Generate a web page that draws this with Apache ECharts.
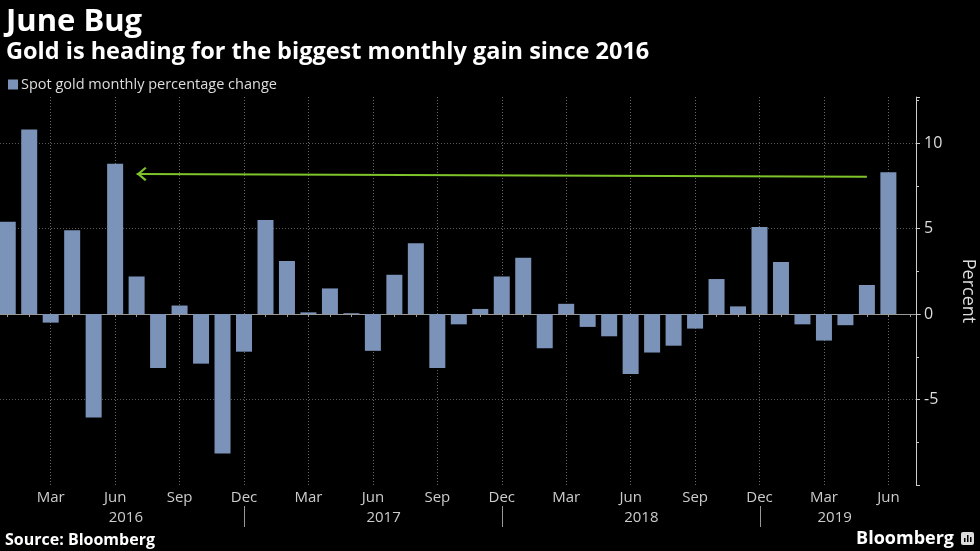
<!DOCTYPE html>
<html><head><meta charset="utf-8">
<script src="https://cdn.jsdelivr.net/npm/echarts@6/dist/echarts.min.js"></script>
<style>html,body{margin:0;padding:0;background:#000;}#c{width:980px;height:551px;}</style>
</head><body><div id="c"></div>
<script>
// ---- data ----
const categories = [
  'Jan 2016','Feb 2016','Mar 2016','Apr 2016','May 2016','Jun 2016','Jul 2016','Aug 2016','Sep 2016','Oct 2016','Nov 2016','Dec 2016',
  'Jan 2017','Feb 2017','Mar 2017','Apr 2017','May 2017','Jun 2017','Jul 2017','Aug 2017','Sep 2017','Oct 2017','Nov 2017','Dec 2017',
  'Jan 2018','Feb 2018','Mar 2018','Apr 2018','May 2018','Jun 2018','Jul 2018','Aug 2018','Sep 2018','Oct 2018','Nov 2018','Dec 2018',
  'Jan 2019','Feb 2019','Mar 2019','Apr 2019','May 2019','Jun 2019','Jul 2019'
];
const goldChange = [
  5.4, 10.8, -0.5, 4.9, -6.05, 8.8, 2.2, -3.15, 0.5, -2.9, -8.15, -2.2,
  5.5, 3.1, 0.1, 1.5, 0.05, -2.15, 2.3, 4.15, -3.15, -0.6, 0.3, 2.2,
  3.3, -2.0, 0.6, -0.75, -1.3, -3.5, -2.25, -1.85, -0.85, 2.05, 0.45, 5.1,
  3.05, -0.6, -1.55, -0.65, 1.7, 8.3, null
];
const labelMonths = ['Mar','Jun','Sep','Dec'];
const years = ['2016','2017','2018','2019'];
const yTicks = {min: -10, max: 12.7, interval: 5};
const arrowFrom = ['May 2019', 8.04];
const arrowTo = ['Jul 2016', 8.2];
const seriesName = 'Spot gold monthly percentage change';
const titleText = 'June Bug';
const subtitleText = 'Gold is heading for the biggest monthly gain since 2016';

// ---- chart ----
const FONT = 'Open Sans';
const chart = echarts.init(document.getElementById('c'), null, {renderer: 'canvas'});
const isLabelMonth = (idx, val) => labelMonths.indexOf(String(val).split(' ')[0]) >= 0;
// open chevron, tip at the centre of its box so it sits on the line end
const chevron = 'path://M10,-12 L10.01,-12 M0,10 L10,0 L20,10 L18,12 L10,4 L2,12 Z';

const option = {
  backgroundColor: '#000',
  animation: false,
  title: [
    {text: titleText, left: 1, top: 2, textStyle: {color: '#fff', fontSize: 31, fontWeight: 'bold', fontFamily: FONT}},
    {text: subtitleText, left: 1, top: 35, textStyle: {color: '#fff', fontSize: 23.5, fontWeight: 'bold', fontFamily: FONT}}
  ],
  legend: {
    left: 3, top: 72, icon: 'rect', itemWidth: 10, itemHeight: 10, itemGap: 10,
    textStyle: {color: '#ddd', fontSize: 14.5, fontFamily: FONT, padding: [0, 0, 0, -2]},
    data: [seriesName]
  },
  grid: {left: -3, right: 980 - 920.6, top: 97, bottom: 551 - 485, containLabel: false, outerBoundsMode: 'none'},
  xAxis: {
    type: 'category', data: categories, boundaryGap: true,
    axisLine: {show: true, lineStyle: {color: '#999', width: 1}},
    axisTick: {show: true, interval: 0, alignWithLabel: true, length: 3, lineStyle: {color: '#999'}},
    axisLabel: {interval: isLabelMonth, formatter: v => v.split(' ')[0], color: '#ccc', fontSize: 15, margin: 5, fontFamily: FONT},
    splitLine: {show: true, interval: isLabelMonth, alignWithLabel: true, lineStyle: {color: '#666', type: [1, 2]}}
  },
  yAxis: {
    type: 'value', position: 'right', offset: -4.6,
    min: yTicks.min, max: yTicks.max, interval: yTicks.interval,
    name: 'Percent', nameLocation: 'middle', nameRotate: -90, nameGap: 43,
    nameTextStyle: {color: '#ddd', fontSize: 18, fontFamily: FONT},
    axisLine: {show: true, lineStyle: {color: '#ccc'}},
    axisTick: {show: true, length: 4, lineStyle: {color: '#ccc'}},
    minorTick: {show: true, splitNumber: 2, length: 3, lineStyle: {color: '#ccc'}},
    axisLabel: {color: '#ddd', fontSize: 16, margin: 8, fontFamily: FONT, showMinLabel: false, showMaxLabel: false},
    splitLine: {show: true, showMinLine: false, showMaxLine: false, lineStyle: {color: '#5a5a5a', type: [1, 2]}}
  },
  series: [{
    name: seriesName, type: 'bar', data: goldChange, barWidth: 16,
    itemStyle: {color: '#7b93b9'},
    markLine: {
      silent: true, symbol: ['none', chevron], symbolSize: [14, 20],
      label: {show: false},
      lineStyle: {color: '#7ec42a', width: 2, type: 'solid'},
      data: [[{coord: arrowFrom}, {coord: arrowTo}]]
    }
  }]
};
chart.setOption(option);

// year labels and separators placed through the axis scale
const g = [];
const px = c => chart.convertToPixel({xAxisIndex: 0}, c);
years.forEach((y, k) => {
  const idxs = categories.map((c, i) => i).filter(i => categories[i].endsWith(y) && goldChange[i] !== null);
  const x0 = px(categories[idxs[0]]), x1 = px(categories[idxs[idxs.length - 1]]);
  g.push({type: 'text', x: (x0 + x1) / 2, y: 518, style: {text: y, fill: '#ccc', font: '15px "Open Sans"', textAlign: 'center', textVerticalAlign: 'middle'}});
  if (k < years.length - 1) {
    const xd = Math.round(px('Dec ' + y)) + 0.5;
    g.push({type: 'line', shape: {x1: xd, y1: 506, x2: xd, y2: 527}, style: {stroke: '#999', lineWidth: 1}});
  }
});
g.push({type: 'text', x: 5, y: 540, style: {text: 'Source: Bloomberg', fill: '#fff', font: 'bold 16px "Open Sans"', textVerticalAlign: 'middle'}});
g.push({type: 'text', x: 954, y: 539, style: {text: 'Bloomberg', fill: '#fff', font: 'bold 18px "Open Sans"', textAlign: 'right', textVerticalAlign: 'middle'}});
g.push({type: 'rect', shape: {x: 961, y: 532, width: 13, height: 13, r: 2}, style: {fill: '#ddd'}});
g.push({type: 'rect', shape: {x: 964, y: 538, width: 1.5, height: 4}, style: {fill: '#000'}});
g.push({type: 'rect', shape: {x: 967, y: 535, width: 1.5, height: 7}, style: {fill: '#000'}});
g.push({type: 'rect', shape: {x: 970, y: 537, width: 1.5, height: 5}, style: {fill: '#000'}});
chart.setOption({graphic: g});
</script>
</body></html>
